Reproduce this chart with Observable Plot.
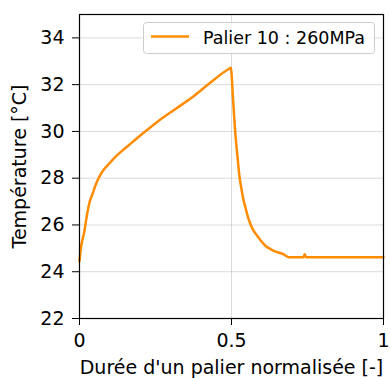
<!DOCTYPE html>
<html>
<head>
<meta charset="utf-8">
<script src="https://cdn.jsdelivr.net/npm/d3@7"></script>
<script src="https://cdn.jsdelivr.net/npm/@observablehq/plot@0.6"></script>
<style>
  html, body { margin: 0; padding: 0; background: #fff; }
  #chart { position: relative; width: 390px; height: 378px; }
</style>
</head>
<body>
<div id="chart"></div>
<script>
// Normalised duration of one load step
const xs = [0, 0.004, 0.009, 0.014, 0.025, 0.033, 0.042, 0.053, 0.064, 0.08, 0.096, 0.118, 0.14, 0.173, 0.206,
            0.261, 0.316, 0.371, 0.425, 0.491, 0.498, 0.500,
            0.504, 0.511, 0.521, 0.526, 0.532, 0.539, 0.546, 0.554, 0.5625, 0.573, 0.585, 0.598, 0.612, 0.628,
            0.645, 0.66, 0.672, 0.689, 0.737, 0.741, 0.745, 1.0];
// Temperature [°C]
const temps = [24.45, 24.95, 25.33, 25.6, 26.46, 26.97, 27.3, 27.71, 28.03, 28.37, 28.6, 28.91, 29.17, 29.53, 29.89,
               30.46, 30.96, 31.46, 32.03, 32.67, 32.72, 32.5,
               31.6, 30.19, 28.74, 28.1, 27.6, 27.1, 26.74, 26.35, 26.03, 25.75, 25.53, 25.3, 25.1, 24.97,
               24.86, 24.8, 24.74, 24.62, 24.62, 24.75, 24.62, 24.62];
const seriesLabel = "Palier 10 : 260MPa";
const xTicks = [0, 0.5, 1];
const yTicks = [22, 24, 26, 28, 30, 32, 34];
const xLabel = "Durée d'un palier normalisée [-]";
const yLabel = "Température [°C]";

const data = xs.map((x, i) => ({x, y: temps[i]}));
const font = "DejaVu Sans, sans-serif";
const orange = "#ff8c00";

const plot = Plot.plot({
  width: 390,
  height: 378,
  marginLeft: 79,
  marginRight: 7,
  marginTop: 14,
  marginBottom: 60,
  style: {fontFamily: font, fontSize: "19px", color: "#000", background: "#fff"},
  x: {domain: [0, 1]},
  y: {domain: [22, 35]},
  marks: [
    Plot.gridX(xTicks, {stroke: "#b0b0b0", strokeOpacity: 0.45, strokeWidth: 1}),
    Plot.gridY(yTicks, {stroke: "#b0b0b0", strokeOpacity: 0.45, strokeWidth: 1}),
    Plot.line(data, {x: "x", y: "y", stroke: orange, strokeWidth: 2.5, curve: "monotone-x"}),
    Plot.frame({stroke: "#000", strokeWidth: 1.2}),
    Plot.axisX({ticks: xTicks, tickFormat: d => String(d), tickSize: 7, tickPadding: 8,
      label: xLabel, labelAnchor: "center", labelArrow: "none", labelOffset: 55, fontSize: 19}),
    Plot.axisY({ticks: yTicks, tickFormat: d => String(d), tickSize: 7, tickPadding: 8,
      label: yLabel, labelAnchor: "center", labelArrow: "none", labelOffset: 67, fontSize: 19})
  ]
});

document.getElementById("chart").appendChild(plot);

// Legend inside the plot (top-right)
const svg = d3.select(plot);
const g = svg.append("g").attr("class", "legend");
g.append("rect").attr("x", 143.5).attr("y", 22.5).attr("width", 231).attr("height", 31).attr("rx", 3)
  .attr("fill", "#fff").attr("fill-opacity", 0.8).attr("stroke", "#cccccc").attr("stroke-width", 1);
g.append("line").attr("x1", 151).attr("x2", 189).attr("y1", 36.5).attr("y2", 36.5)
  .attr("stroke", orange).attr("stroke-width", 2.5);
g.append("text").attr("x", 203).attr("y", 44).attr("text-anchor", "start")
  .attr("font-family", font).attr("font-size", 17.5)
  .attr("fill", "#000").text(seriesLabel);
</script>
</body>
</html>
